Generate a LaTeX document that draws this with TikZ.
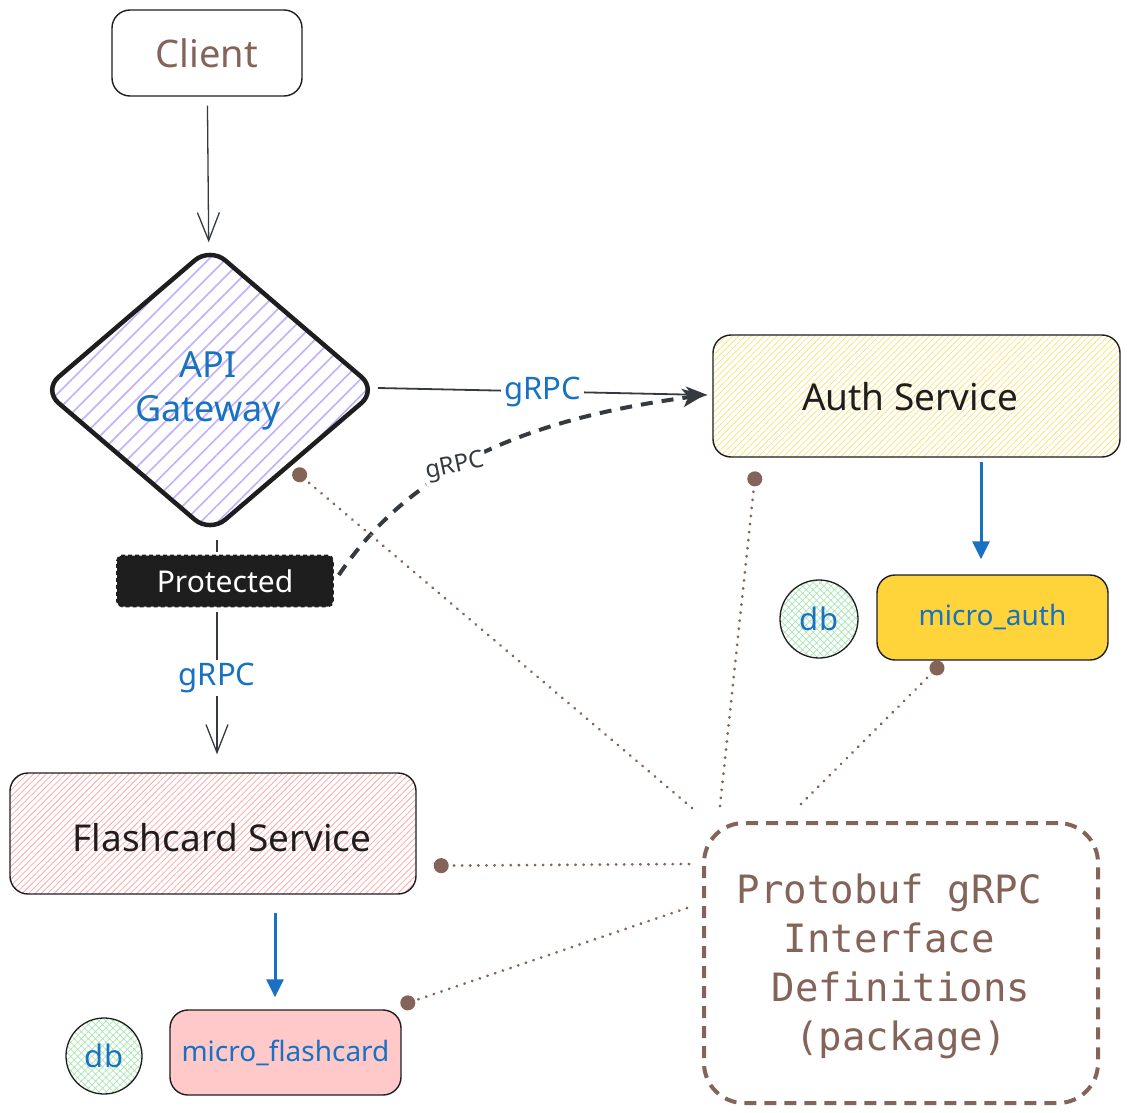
\documentclass[tikz,border=0pt]{standalone}
\usepackage{fontspec}
\setmainfont{Noto Sans}
\setmonofont{DejaVu Sans Mono}
\usetikzlibrary{arrows.meta,shapes.geometric,patterns.meta}
\definecolor{brn}{HTML}{846358}
\definecolor{blu}{HTML}{1971C2}
\definecolor{ink}{HTML}{1E1E1E}
\definecolor{gry}{HTML}{343A40}
\definecolor{lav}{HTML}{C2AEFF}
\definecolor{ylw}{HTML}{FFE27A}
\definecolor{gold}{HTML}{FFD43B}
\definecolor{pnk}{HTML}{FFA8A8}
\definecolor{pnkfill}{HTML}{FFC9C9}
\definecolor{grn}{HTML}{A8E6B2}
\tikzset{
  box/.style={draw=ink, line width=1.4pt, rounded corners=18pt, inner sep=0pt},
  fs/.style={font=\fontsize{#1}{#1}\selectfont},
  thinarrow/.style={draw=gry, line width=1.3pt, -{Straight Barb[length=28pt,width=22pt,line width=1.3pt]}},
  bluearrow/.style={draw=blu, line width=3pt, -{Triangle[length=18pt,width=17pt]}},
  dotline/.style={draw=brn, line width=3pt, dash pattern=on 0.1pt off 8pt, line cap=round,
    -{Circle[length=15pt,line cap=butt]}},
  lbl/.style={fill=white, inner sep=3pt, text=blu, fs=31},
  dbnode/.style={circle, draw=ink, line width=1.3pt, minimum size=#1, inner sep=0pt,
    pattern={Hatch[angle=45,distance=5pt,line width=0.7pt]}, pattern color=grn, text=blu, fs=31}
}
\begin{document}
\begin{tikzpicture}[x=1pt,y=-1pt]
\useasboundingbox (0,0) rectangle (1130,1113);
% nodes
\node[box, minimum width=190pt, minimum height=86pt, text=brn, fs=38] (client) at (207,53) {Client};
\node[diamond, draw=ink, line width=4.5pt, rounded corners=20pt, minimum width=334pt, minimum height=286pt, inner sep=0pt,
  pattern={Lines[angle=45,distance=12pt,line width=1.6pt]}, pattern color=lav] (gw) at (210,390) {};
\node[text=blu, fs=36, align=center, inner sep=0pt] (gwt) at (208,391) {API\\[8pt]Gateway};
\node[box, minimum width=407pt, minimum height=122pt, pattern={Lines[angle=45,distance=4.5pt,line width=0.8pt]}, pattern color=ylw] (auth) at (916.5,396) {};
\node[text=ink, fs=37, inner sep=0pt] (autht) at (910,397) {Auth Service};
\node[box, minimum width=231pt, minimum height=85pt, fill=gold, text=blu, fs=28] (mauth) at (992.5,617.5) {micro\_auth};
\node[dbnode=78pt] (db1) at (819,619) {db};
\node[draw=ink, line width=1.6pt, dash pattern=on 4pt off 3pt, rounded corners=5pt, fill=ink, minimum width=216pt, minimum height=51pt,
  inner sep=0pt, text=white, fs=30] (prot) at (225,581) {Protected};
\node[box, minimum width=406pt, minimum height=121pt, pattern={Lines[angle=45,distance=4.5pt,line width=0.8pt]}, pattern color=pnk] (flash) at (213,833.5) {};
\node[text=ink, fs=37, inner sep=0pt] (flasht) at (222,838) {Flashcard Service};
\node[box, minimum width=231pt, minimum height=85pt, fill=pnkfill, text=blu, fs=28] (mflash) at (285.5,1052.5) {micro\_flashcard};
\node[dbnode=76pt] (db2) at (104,1056) {db};
\node[draw=brn, line width=4pt, dash pattern=on 12pt off 8pt, rounded corners=40pt, minimum width=394pt, minimum height=280pt, inner sep=0pt] (proto) at (901,963) {};
\node[text=brn, font=\ttfamily\fontsize{39}{49}\selectfont, align=center, inner sep=0pt] (protot) at (901,966)
  {Protobuf gRPC\hphantom{x}\\Interface\hphantom{x}\\Definitions\\(package)};
% connectors
\draw[thinarrow, shorten <=9pt, shorten >=5pt] (client) -- (gw);
\draw[draw=gry, line width=1.3pt, shorten <=6pt, shorten >=3pt] ([xshift=7pt]gw.south) -- ([xshift=7pt]prot.north -| gw.south);
\draw[thinarrow, shorten <=5pt, shorten >=18pt] ([xshift=7pt]prot.south -| gw.south) -- ([xshift=7pt]flash.north -| gw.south)
  node[lbl, pos=0.43] {gRPC};
\draw[draw=gry, line width=1.8pt, -{Stealth[length=22pt,width=16pt,inset=6pt]}] ([xshift=0pt,yshift=2pt]gw.east) -- ([xshift=-5pt,yshift=1pt]auth.west)
  node[lbl, pos=0.5] {gRPC};
\draw[draw=gry, line width=4pt, dash pattern=on 12pt off 9pt, -{Stealth[length=22pt,width=18pt,inset=6pt]}]
  ([xshift=5pt,yshift=6pt]prot.east) .. controls (410,470) and (520,420) .. ([xshift=-8pt,yshift=1pt]auth.west);
\node[fill=white, inner sep=2pt, text=gry, fs=24, rotate=12] (lbl2) at (455,467) {gRPC};
\draw[bluearrow] ([xshift=64.5pt,yshift=-5pt]auth.south) -- ([xshift=-11.5pt,yshift=15pt]mauth.north);
\draw[bluearrow] ([xshift=62pt,yshift=-18pt]flash.south) -- ([xshift=-10.5pt,yshift=12pt]mflash.north);
% dotted protobuf links
\draw[dotline] ([xshift=-10pt,yshift=13pt]proto.north west) -- ([xshift=0pt,yshift=-8pt]gw.south east);
\draw[dotline] ([xshift=18pt,yshift=15pt]proto.north west) -- ([xshift=43pt,yshift=-14pt]auth.south west);
\draw[dotline] ([xshift=99pt,yshift=17pt]proto.north west) -- ([xshift=66pt,yshift=-2pt]mauth.south west);
\draw[dotline] ([xshift=-13pt,yshift=-43pt]proto.north west) -- ([xshift=17pt,yshift=29pt]flash.south east);
\draw[dotline] ([xshift=-15pt,yshift=-87pt]proto.north west) -- ([xshift=-1pt,yshift=4pt]mflash.north east);
\end{tikzpicture}
\end{document}
